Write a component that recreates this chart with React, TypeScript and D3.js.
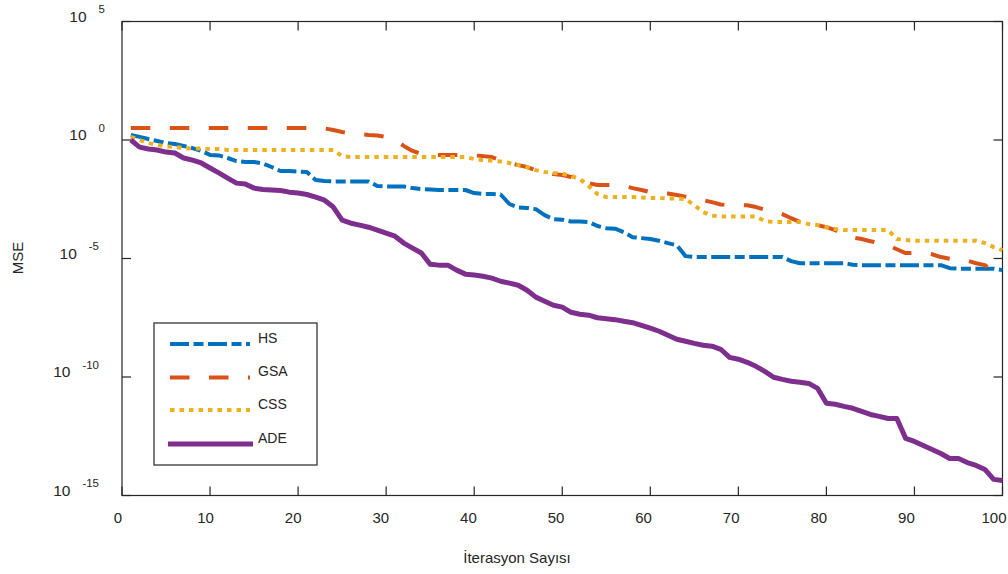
import { useEffect, useRef } from "react";
import * as d3 from "d3";

// log10(MSE) per iteration
const hsLog = [0.21, 0.13, 0.04, -0.04, -0.13, -0.17, -0.25, -0.34, -0.46, -0.63,
  -0.65, -0.76, -0.89, -0.93, -0.93, -0.99, -1.14, -1.31, -1.31, -1.33,
  -1.35, -1.69, -1.73, -1.75, -1.75, -1.75, -1.75, -1.75, -1.94, -1.96,
  -1.96, -1.96, -2.03, -2.07, -2.09, -2.11, -2.11, -2.11, -2.11, -2.24,
  -2.28, -2.28, -2.30, -2.70, -2.85, -2.87, -2.92, -3.17, -3.34, -3.36,
  -3.44, -3.44, -3.46, -3.63, -3.72, -3.74, -3.89, -4.10, -4.14, -4.18,
  -4.25, -4.35, -4.44, -4.90, -4.94, -4.94, -4.94, -4.94, -4.94, -4.94,
  -4.94, -4.94, -4.94, -4.94, -4.94, -5.11, -5.20, -5.20, -5.20, -5.20,
  -5.20, -5.20, -5.26, -5.28, -5.28, -5.28, -5.28, -5.28, -5.28, -5.28,
  -5.28, -5.28, -5.28, -5.41, -5.43, -5.43, -5.43, -5.43, -5.43, -5.49];

const gsaLog = [0.51, 0.51, 0.51, 0.51, 0.51, 0.51, 0.51, 0.51, 0.51, 0.51,
  0.51, 0.51, 0.51, 0.51, 0.51, 0.51, 0.51, 0.51, 0.51, 0.51,
  0.51, 0.51, 0.49, 0.42, 0.34, 0.27, 0.25, 0.21, 0.19, 0.13,
  0, -0.25, -0.46, -0.59, -0.63, -0.63, -0.63, -0.63, -0.63, -0.65,
  -0.68, -0.72, -0.85, -0.97, -1.06, -1.14, -1.27, -1.35, -1.44, -1.48,
  -1.56, -1.69, -1.82, -1.90, -1.90, -1.90, -1.94, -2.03, -2.11, -2.20,
  -2.24, -2.26, -2.32, -2.39, -2.45, -2.54, -2.62, -2.72, -2.75, -2.75,
  -2.75, -2.83, -2.94, -3.04, -3.13, -3.30, -3.46, -3.55, -3.59, -3.68,
  -3.80, -4.01, -4.12, -4.18, -4.27, -4.35, -4.44, -4.61, -4.77, -4.77,
  -4.77, -4.82, -4.94, -5.01, -5.07, -5.09, -5.20, -5.28, -5.58, -5.79];

const cssLog = [0.13, 0, -0.13, -0.21, -0.27, -0.30, -0.34, -0.36, -0.36, -0.38,
  -0.38, -0.42, -0.42, -0.42, -0.42, -0.42, -0.42, -0.42, -0.42, -0.42,
  -0.42, -0.42, -0.42, -0.42, -0.68, -0.72, -0.72, -0.72, -0.72, -0.72,
  -0.72, -0.72, -0.72, -0.72, -0.72, -0.72, -0.72, -0.72, -0.72, -0.80,
  -0.85, -0.87, -0.91, -0.97, -1.06, -1.14, -1.27, -1.35, -1.39, -1.42,
  -1.52, -1.65, -1.94, -2.28, -2.41, -2.41, -2.41, -2.41, -2.43, -2.45,
  -2.45, -2.47, -2.47, -2.49, -2.75, -3.04, -3.19, -3.23, -3.23, -3.23,
  -3.23, -3.23, -3.42, -3.46, -3.46, -3.46, -3.46, -3.55, -3.59, -3.68,
  -3.76, -3.80, -3.80, -3.80, -3.80, -3.80, -3.80, -4.18, -4.22, -4.25,
  -4.25, -4.25, -4.25, -4.25, -4.25, -4.25, -4.25, -4.35, -4.52, -4.65];

const adeLog = [0, -0.30, -0.38, -0.42, -0.51, -0.55, -0.76, -0.85, -0.97, -1.18,
  -1.39, -1.61, -1.82, -1.86, -2.03, -2.09, -2.11, -2.13, -2.20, -2.24,
  -2.30, -2.41, -2.54, -2.83, -3.38, -3.51, -3.59, -3.68, -3.80, -3.93,
  -4.06, -4.35, -4.56, -4.77, -5.24, -5.28, -5.28, -5.49, -5.66, -5.70,
  -5.75, -5.83, -5.96, -6.04, -6.13, -6.34, -6.63, -6.80, -6.97, -7.05,
  -7.27, -7.35, -7.39, -7.50, -7.54, -7.58, -7.65, -7.71, -7.82, -7.94,
  -8.07, -8.24, -8.41, -8.49, -8.58, -8.66, -8.70, -8.83, -9.17, -9.25,
  -9.38, -9.55, -9.76, -10.01, -10.10, -10.18, -10.22, -10.27, -10.48, -11.11,
  -11.15, -11.24, -11.32, -11.45, -11.58, -11.66, -11.75, -11.75, -12.59, -12.72,
  -12.89, -13.06, -13.23, -13.44, -13.44, -13.61, -13.73, -13.90, -14.32, -14.37];

const xTicks = [0, 10, 20, 30, 40, 50, 60, 70, 80, 90, 100];
const yTickExps = [5, 0, -5, -10, -15];

const seriesNames = ["HS", "GSA", "CSS", "ADE"];
const seriesColors = ["#0072BD", "#D95319", "#EDB120", "#7E2F8E"];
const seriesDash = ["19,4.5,10,4.5", "19.5,19.5", "4.5,5", null];
const seriesWidth = [4, 4, 4, 5];
const seriesLogs = [hsLog, gsaLog, cssLog, adeLog];

const FONT = "'Liberation Sans', Arial, Helvetica, sans-serif";
const INK = "#262626";

function App() {
  const ref = useRef<HTMLDivElement>(null);

  useEffect(() => {
    const width = 1008;
    const height = 574;
    const left = 122, right = 1002.5, top = 21.5, bottom = 495.5;

    d3.select(ref.current).selectAll("*").remove();

    const svg = d3
      .select(ref.current)
      .append("svg")
      .attr("width", width)
      .attr("height", height)
      .style("display", "block")
      .style("font-family", FONT);

    const x = d3.scaleLinear().domain([0, 100]).range([left, right]);
    const xLab = d3.scaleLinear().domain([0, 100]).range([118, 994]);
    const y = d3.scaleLog().domain([1e-15, 1e5]).range([bottom, top]);

    // axes box
    svg.append("rect")
      .attr("x", left).attr("y", top)
      .attr("width", right - left).attr("height", bottom - top)
      .attr("fill", "none").attr("stroke", INK).attr("stroke-width", 1.2);

    const tl = 9;
    xTicks.forEach((t) => {
      svg.append("line").attr("x1", x(t)).attr("x2", x(t))
        .attr("y1", bottom).attr("y2", bottom - tl).attr("stroke", INK).attr("stroke-width", 1.2);
      svg.append("line").attr("x1", x(t)).attr("x2", x(t))
        .attr("y1", top).attr("y2", top + tl).attr("stroke", INK).attr("stroke-width", 1.2);
      svg.append("text").attr("x", xLab(t)).attr("y", 523)
        .attr("text-anchor", "middle").attr("font-size", 15).attr("fill", INK)
        .text(String(t));
    });

    yTickExps.forEach((e) => {
      const v = Math.pow(10, e);
      svg.append("line").attr("x1", left).attr("x2", left + tl)
        .attr("y1", y(v)).attr("y2", y(v)).attr("stroke", INK).attr("stroke-width", 1.2);
      svg.append("line").attr("x1", right).attr("x2", right - tl)
        .attr("y1", y(v)).attr("y2", y(v)).attr("stroke", INK).attr("stroke-width", 1.2);
      const label = String(e);
      const endX = label.length > 1 ? 99 : 105;
      const t = svg.append("text").attr("x", endX).attr("y", y(v))
        .attr("text-anchor", "end").attr("fill", INK);
      t.append("tspan").attr("font-size", 15.5).text("10");
      t.append("tspan").attr("font-size", 11.5).attr("dx", 12).attr("dy", -8.5).text(label);
    });

    // series
    const line = d3.line<number>()
      .x((_, i) => x(i + 1))
      .y((d) => y(Math.pow(10, d)));

    seriesLogs.forEach((s, k) => {
      const p = svg.append("path").datum(s)
        .attr("fill", "none")
        .attr("stroke", seriesColors[k])
        .attr("stroke-width", seriesWidth[k])
        .attr("stroke-linejoin", "round")
        .attr("d", line);
      if (seriesDash[k]) p.attr("stroke-dasharray", seriesDash[k]);
    });

    // axis labels
    svg.append("text").attr("x", 517).attr("y", 563)
      .attr("text-anchor", "middle").attr("font-size", 15).attr("fill", INK)
      .text("İterasyon Sayısı");
    svg.append("text")
      .attr("transform", "translate(23,258) rotate(-90)")
      .attr("text-anchor", "middle").attr("font-size", 15).attr("fill", INK)
      .text("MSE");

    // legend
    const lg = svg.append("g");
    lg.append("rect").attr("x", 154).attr("y", 323).attr("width", 163).attr("height", 142)
      .attr("fill", "#fff").attr("stroke", INK).attr("stroke-width", 1.2);
    const rowY = [344, 377.5, 410, 444];
    seriesNames.forEach((name, k) => {
      const l = lg.append("line")
        .attr("x1", k === 3 ? 168 : 170).attr("x2", k === 3 ? 253 : 250)
        .attr("y1", rowY[k]).attr("y2", rowY[k])
        .attr("stroke", seriesColors[k]).attr("stroke-width", seriesWidth[k]);
      if (seriesDash[k]) l.attr("stroke-dasharray", seriesDash[k]);
      lg.append("text").attr("x", 258).attr("y", rowY[k] - 1.5)
        .attr("font-size", 14).attr("fill", INK).text(name);
    });
  }, []);

  return <div ref={ref} style={{ position: "absolute", left: 0, top: 0 }}></div>;
}

export default App;
